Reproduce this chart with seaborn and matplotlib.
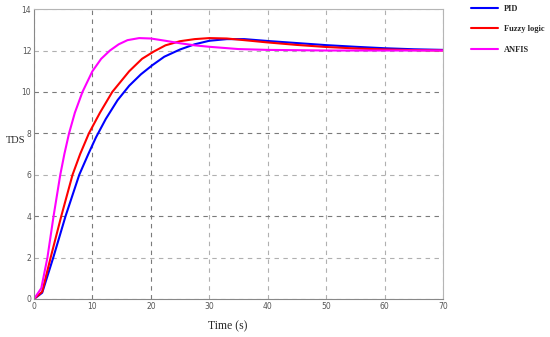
import matplotlib

matplotlib.use("Agg")
import matplotlib.pyplot as plt
import pandas as pd
import seaborn as sns

# Values
pid_time = [0, 1.4, 3.3, 5.4, 7.75, 9.3, 10.6, 12.3, 14.3, 16.3, 18.3, 20.3,
            22.3, 25, 27.5, 30, 33, 36, 40, 45, 50, 55, 60, 65, 70]
pid_tds = [0, 0.3, 2.0, 4.0, 6.0, 7.0, 7.8, 8.7, 9.6, 10.3, 10.85, 11.3,
           11.7, 12.05, 12.3, 12.47, 12.55, 12.55, 12.46, 12.36, 12.26, 12.18,
           12.11, 12.06, 12.03]

fuzzy_time = [0, 1.4, 2.85, 4.67, 6.6, 7.9, 9.4, 11.3, 13.4, 16.3, 18.5, 20.5,
              22.5, 25, 27.5, 30, 33, 36, 40, 45, 50, 55, 60, 65, 70]
fuzzy_tds = [0, 0.35, 2.0, 4.0, 6.0, 7.0, 8.0, 9.0, 10.0, 11.0, 11.6, 11.95,
             12.25, 12.45, 12.55, 12.6, 12.58, 12.5, 12.39, 12.27, 12.17, 12.1,
             12.05, 12.02, 12.0]

anfis_time = [0, 1.25, 2.3, 3.35, 4.5, 5.2, 6.0, 7.0, 8.3, 10, 11.5, 13.0, 14.5,
              16, 18, 20, 22.5, 25, 27.5, 30, 35, 40, 50, 60, 70]
anfis_tds = [0, 0.52, 2.0, 4.0, 6.0, 7.0, 8.0, 9.0, 10.0, 11.0, 11.6, 12.0, 12.3,
             12.5, 12.6, 12.58, 12.47, 12.35, 12.25, 12.18, 12.07, 12.03, 12.0,
             12.0, 12.0]

methods = ["PID", "Fuzzy logic", "ANFIS"]
colors = ["#0000ff", "#ff0000", "#ff00ff"]
x_ticks = [0, 10, 20, 30, 40, 50, 60, 70]
y_ticks = [0, 2, 4, 6, 8, 10, 12, 14]

data = pd.concat(
    [
        pd.DataFrame({"Time": t, "TDS": v, "Method": name})
        for name, t, v in zip(
            methods,
            (pid_time, fuzzy_time, anfis_time),
            (pid_tds, fuzzy_tds, anfis_tds),
        )
    ],
    ignore_index=True,
)

sns.set_style("white")
plt.rcParams["font.family"] = ["Liberation Serif", "DejaVu Serif"]

figure = plt.figure(figsize=(5.5, 3.37), dpi=100)
axis = figure.add_axes([0.0618, 0.1128, 0.7436, 0.8602])

sns.lineplot(
    data=data,
    x="Time",
    y="TDS",
    hue="Method",
    hue_order=methods,
    palette=colors,
    sort=False,
    linewidth=1.5,
    ax=axis,
)

axis.set_xlim(0, 70)
axis.set_ylim(0, 14)
axis.set_xticks(x_ticks)
axis.set_yticks(y_ticks)
axis.tick_params(
    labelsize=5.5, colors="#555555", direction="in", length=2, width=0.6,
    top=False, right=False, pad=2,
)
for label in axis.get_xticklabels() + axis.get_yticklabels():
    label.set_family("DejaVu Sans")

axis.grid(True, linestyle=(0, (4, 4)), linewidth=0.8)
dark_x = {10, 20}
dark_y = {4, 8, 10}
for tick, line in zip(x_ticks, axis.get_xgridlines()):
    line.set_color("#7a7a7a" if tick in dark_x else "#b0b0b0")
for tick, line in zip(y_ticks, axis.get_ygridlines()):
    line.set_color("#7a7a7a" if tick in dark_y else "#b0b0b0")

for side, spine in axis.spines.items():
    spine.set_linewidth(0.8)
    spine.set_color("#888888" if side in ("left", "bottom") else "#b5b5b5")

axis.set_xlabel("Time (s)", fontsize=8.5)
axis.set_ylabel("TDS", fontsize=7.5, rotation=0)
axis.xaxis.set_label_coords(0.474, -0.075)
axis.yaxis.set_label_coords(-0.044, 0.531)

axis.legend(
    loc="upper left",
    bbox_to_anchor=(1.055, 1.035),
    frameon=False,
    prop={"family": "Liberation Serif", "weight": "bold", "size": 6},
    handlelength=3.2,
    handletextpad=0.7,
    labelspacing=1.5,
    borderaxespad=0.3,
)

figure.savefig("out.png", dpi=100)
